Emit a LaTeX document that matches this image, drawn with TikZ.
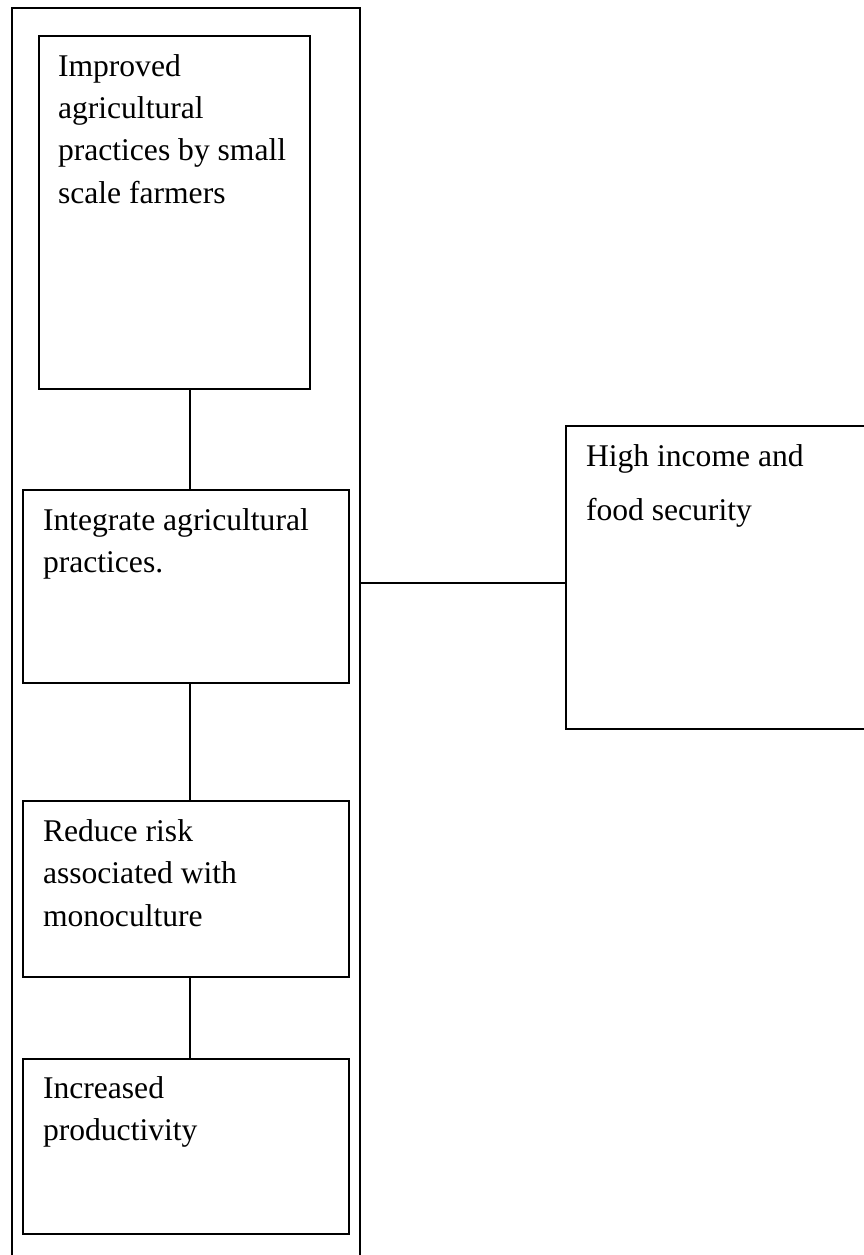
\documentclass[tikz,border=0pt]{standalone}
\usepackage{fontspec}
\setmainfont{Liberation Serif}
\begin{document}
\begin{tikzpicture}[x=1pt,y=-1pt,
  box/.style={draw, line width=1.9pt, rectangle, anchor=north west, inner sep=0pt, outer sep=0pt},
  frame/.style={draw, line width=1.6pt},
  link/.style={line width=1.6pt},
  txt/.style={anchor=base west, inner sep=0pt, outer sep=0pt, font=\fontsize{31.6}{42.5}\selectfont},
  txtwide/.style={anchor=base west, inner sep=0pt, outer sep=0pt, font=\fontsize{31.6}{54}\selectfont}]
\useasboundingbox (0,0) rectangle (864,1255);
% outer frame (open at the bottom, running off the page)
\draw[frame] (12,1265) -- (12,8) -- (360,8) -- (360,1265);
\coordinate (fr) at (360,583);
\coordinate (cx) at (190,0);
% boxes
\node[box, minimum width=271pt, minimum height=353pt] (b1) at (39,36) {};
\node[box, minimum width=326pt, minimum height=193pt] (b2) at (23,490) {};
\node[box, minimum width=326pt, minimum height=176pt] (b3) at (23,801) {};
\node[box, minimum width=326pt, minimum height=175pt] (b4) at (23,1059) {};
\node[box, minimum width=330pt, minimum height=303pt] (b5) at (566,426) {};
% texts
\node[txt] (t1) at (58,76) {\parbox[t]{400pt}{\raggedright Improved\\agricultural\\practices by small\\scale farmers}};
\node[txt] (t2) at (43,530) {\parbox[t]{400pt}{\raggedright Integrate agricultural\\practices.}};
\node[txt] (t3) at (43,841) {\parbox[t]{400pt}{\raggedright Reduce risk\\associated with\\monoculture}};
\node[txt] (t4) at (43,1098) {\parbox[t]{400pt}{\raggedright Increased\\productivity}};
\node[txtwide] (t5) at (586,466) {\parbox[t]{400pt}{\raggedright High income and\\food security}};
% connectors
\draw[link] (b1.south -| cx) -- (b2.north -| cx);
\draw[link] (b2.south -| cx) -- (b3.north -| cx);
\draw[link] (b3.south -| cx) -- (b4.north -| cx);
\draw[link] (fr) -- (fr -| b5.west);
\end{tikzpicture}
\end{document}
